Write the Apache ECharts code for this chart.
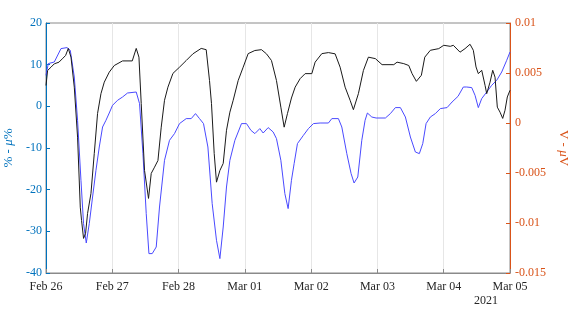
<!DOCTYPE html>
<html><head><meta charset="utf-8">
<script src="https://cdn.jsdelivr.net/npm/echarts@6/dist/echarts.min.js"></script>
<style>html,body{margin:0;padding:0;background:#fff}#c{width:580px;height:330px}</style>
</head><body><div id="c"></div>
<script>
// x positions in hours since Feb 26 2021 00:00
var xTickLabels = ["Feb 26","Feb 27","Feb 28","Mar 01","Mar 02","Mar 03","Mar 04","Mar 05"];
var yearLabel = "2021";

// black series (left axis, % - μ%)
var blackHours = [0,0.58,1.81,3.0,4.7,5.9,7.09,8.07,9.05,10.24,11.43,12.41,12.88,13.6,14.33,15.05,16.28,17.48,18.67,19.9,21.1,22.9,24.72,27.72,31.23,32.67,33.65,34.48,35.68,37.12,38.1,39.3,40.53,41.72,42.91,44.14,45.95,48.34,50.77,53.19,56.19,58.0,59.2,59.92,60.9,61.73,62.96,64.16,65.35,66.58,67.78,69.58,71.39,73.2,75.62,78.01,79.82,81.63,83.44,85.03,86.23,87.42,88.87,90.21,92.02,93.83,96.25,97.44,99.87,102.26,104.68,106.49,108.3,110.11,111.3,113.11,114.92,116.73,119.26,121.68,125.92,127.11,129.54,131.35,132.54,134.1,135.91,137.14,139.16,142.2,144.01,146.4,147.48,149.91,151.72,153.53,154.72,155.7,156.53,157.76,158.96,159.57,160.77,161.74,162.58,163.41,164.39,165.36,166.19,167.03,168];
var blackValues = [5,8.6,9.4,10.2,10.6,11.4,12.2,13.9,11.8,4.6,-7.4,-24.2,-27.4,-31.7,-30.5,-25.7,-20.9,-11.3,-1.7,3.05,5.8,8.2,9.8,10.9,10.9,13.9,11.8,0.65,-15.4,-22.1,-16.1,-14.6,-13,-5,1.45,4.6,7.9,9.4,11,12.6,13.9,13.6,6.2,0.65,-11.3,-18.2,-15.4,-13.7,-5.75,-1.4,1.45,6.2,9.4,12.65,13.4,13.6,12.6,11,6.2,-0.2,-5,-1.75,2.0,4.6,6.65,7.85,7.85,10.6,12.65,12.9,12.6,9.4,4.6,1.45,-0.8,3.05,8.6,11.8,11.45,10,10,10.6,10.25,9.8,7.85,6,7.45,11.8,13.45,13.85,14.65,14.4,14.65,13,13.85,14.9,13.45,9.45,7.85,8.65,5.05,3.05,5.8,8.65,7,-0.2,-1.4,-2.9,-0.95,2.25,3.85];

// blue series (right axis, V - μV)
var blueHours = [0,0.83,3.0,5.43,7.6,8.79,10.24,11.43,12.66,13.6,14.58,15.67,16.86,18.09,19.29,20.48,21.71,22.9,24.1,25.91,27.72,29.53,32.67,33.87,35.1,36.29,37.27,38.46,39.91,41.1,42.91,44.72,46.53,48.34,50.77,52.58,54.13,55.58,57.03,58.62,60.17,61.73,62.96,64.16,65.35,66.58,68.39,69.58,70.78,72.59,74.18,75.62,77.43,78.63,80.44,82.25,83.44,85.03,86.48,87.67,88.87,89.84,91.04,93.21,95.02,96.83,99.25,102.26,103.49,105.87,107.1,108.91,110.47,111.55,112.89,114.34,115.53,116.37,117.96,119.52,122.88,124.69,126.5,128.31,130.12,131.93,133.74,135.18,136.41,137.61,139.16,140.97,142.78,145.21,147.02,149.19,151.1,152.33,154.14,155.34,156.53,157.76,159.57,161.38,163.19,165.0,166.81,168];
var blueValues = [0.00477,0.00594,0.0061,0.00744,0.00754,0.00727,0.0046,0.00027,-0.00573,-0.01006,-0.012,-0.01006,-0.0074,-0.00473,-0.0024,-0.0004,0.00027,0.001,0.00177,0.00227,0.0026,0.003,0.0031,0.00194,-0.00306,-0.00906,-0.01306,-0.01306,-0.0124,-0.0084,-0.00373,-0.00173,-0.00106,-0.00006,0.00044,0.00044,0.00094,0.00044,-0.00006,-0.0024,-0.00806,-0.01173,-0.01356,-0.0104,-0.0064,-0.00373,-0.00173,-0.0009,-0.00006,-0.00006,-0.00073,-0.00106,-0.00056,-0.001,-0.00046,-0.0009,-0.00156,-0.00373,-0.00706,-0.00856,-0.00573,-0.00406,-0.00206,-0.00123,-0.00056,-0.00006,0.0,0.0,0.00044,0.00044,-0.0004,-0.00306,-0.00506,-0.006,-0.0054,-0.00173,0.00027,0.001,0.0006,0.0005,0.0005,0.00094,0.00154,0.00154,0.0006,-0.0014,-0.0029,-0.00306,-0.00206,-0.00006,0.0006,0.00094,0.00144,0.00154,0.0021,0.00267,0.0036,0.0036,0.00354,0.00277,0.00154,0.00244,0.0031,0.00377,0.00427,0.0051,0.00627,0.0071];

var blackData = blackHours.map(function(h,i){return [h, blackValues[i]];});
var blueData = blueHours.map(function(h,i){return [h, blueValues[i]];});

var FONT = 'Liberation Serif';
var LEFT_C = '#0072BD', RIGHT_C = '#D95319', AX_C = '#262626';

var chart = echarts.init(document.getElementById('c'), null, {renderer:'canvas'});
chart.setOption({
  animation:false,
  backgroundColor:'#fff',
  grid:{left:46,right:70,top:23,bottom:57,show:true,borderColor:'#8a8a8a',borderWidth:1,
        containLabel:false,outerBoundsMode:'none'},
  xAxis:{
    type:'value', min:0, max:168, interval:24,
    axisLine:{show:true,onZero:false,lineStyle:{color:'#8a8a8a',width:1}},
    axisTick:{show:true,inside:true,length:4,lineStyle:{color:'#8a8a8a'}},
    splitLine:{show:true,lineStyle:{color:'#e6e6e6',width:1}},
    axisLabel:{color:AX_C,fontFamily:FONT,fontSize:12,margin:8,
      formatter:function(v){return xTickLabels[Math.round(v/24)]||'';}}
  },
  yAxis:[{
    type:'value', min:-40, max:20, interval:10, position:'left',
    name:'% - {i|\u03bc}%', nameLocation:'middle', nameGap:27, nameRotate:90,
    nameTextStyle:{color:LEFT_C,fontFamily:FONT,fontSize:13,
      rich:{i:{fontStyle:'italic',color:LEFT_C,fontFamily:FONT,fontSize:13}}},
    axisLine:{show:true,onZero:false,lineStyle:{color:LEFT_C,width:1}},
    axisTick:{show:true,inside:true,length:4,lineStyle:{color:LEFT_C}},
    splitLine:{show:false},
    axisLabel:{color:LEFT_C,fontFamily:FONT,fontSize:12,margin:4}
  },{
    type:'value', min:-0.015, max:0.01, interval:0.005, position:'right',
    name:'V - {i|\u03bc}V', nameLocation:'middle', nameGap:46, nameRotate:-90,
    nameTextStyle:{color:RIGHT_C,fontFamily:FONT,fontSize:13,
      rich:{i:{fontStyle:'italic',color:RIGHT_C,fontFamily:FONT,fontSize:13}}},
    axisLine:{show:true,onZero:false,lineStyle:{color:RIGHT_C,width:1}},
    axisTick:{show:true,inside:true,length:4,lineStyle:{color:RIGHT_C}},
    splitLine:{show:false},
    axisLabel:{color:RIGHT_C,fontFamily:FONT,fontSize:12,margin:5,
      formatter:function(v){return String(parseFloat(v.toFixed(4)));}}
  }],
  graphic:[{type:'text',left:474,top:295,style:{text:yearLabel,fill:AX_C,font:'12px "Liberation Serif"'}}],
  series:[{
    type:'line', yAxisIndex:0, data:blackData, showSymbol:false, symbol:'none',
    lineStyle:{color:'#1a1a1a',width:1}, z:3
  },{
    type:'line', yAxisIndex:1, data:blueData, showSymbol:false, symbol:'none',
    lineStyle:{color:'#4a4aff',width:1}, z:2
  }]
});
</script></body></html>
